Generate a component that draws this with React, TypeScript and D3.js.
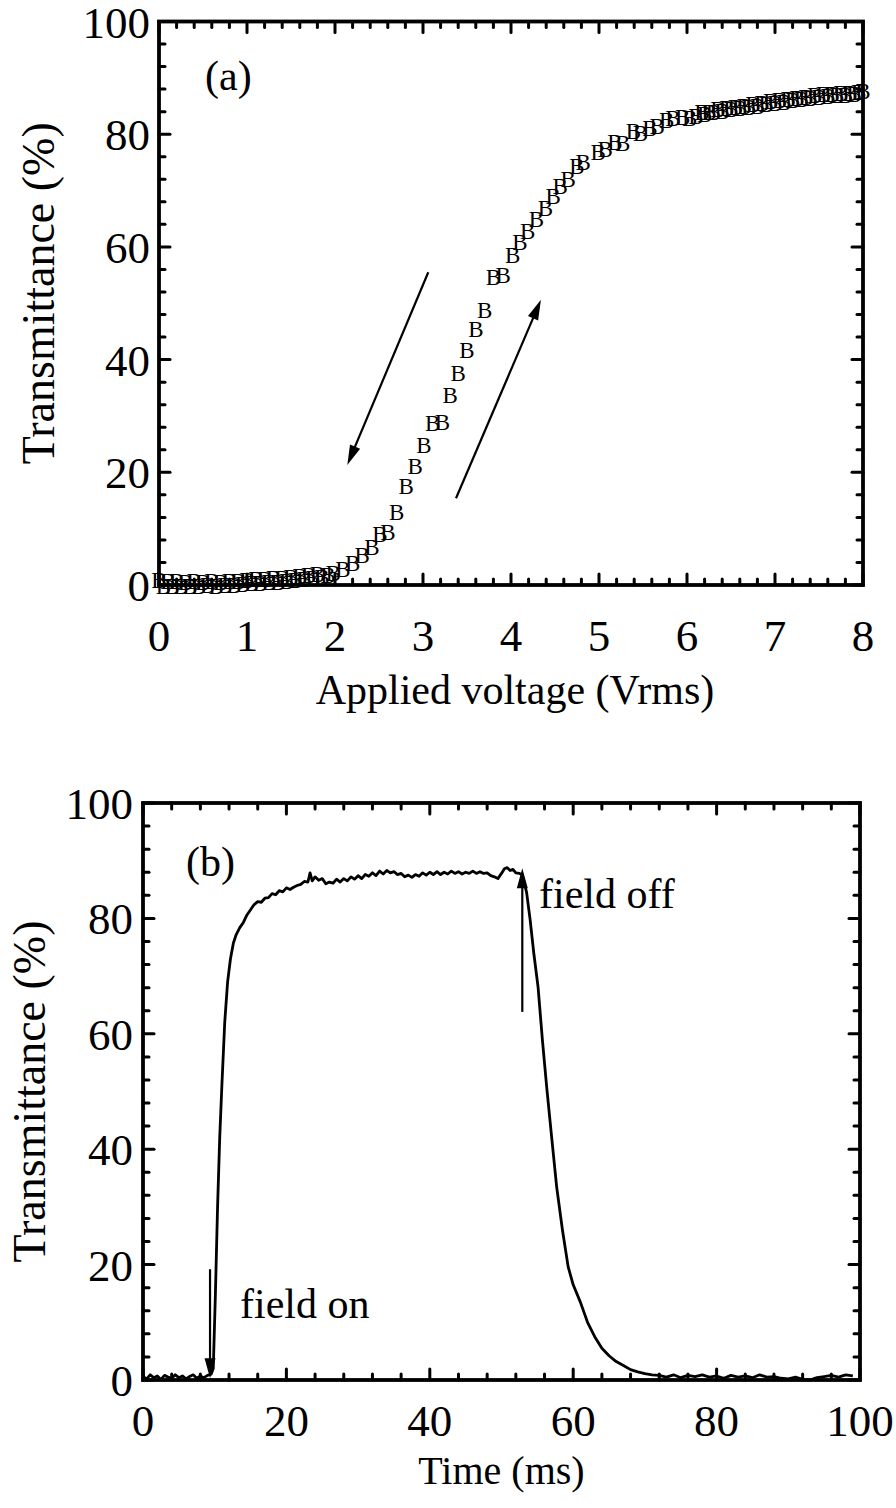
import React from "react";
import * as d3 from "d3";

// ---------- Panel (a): transmittance vs applied voltage ----------
const sweepUpV = [0.0, 0.1, 0.2, 0.3, 0.4, 0.5, 0.6, 0.7, 0.8, 0.9, 1.0, 1.1, 1.2, 1.3, 1.4, 1.5, 1.6, 1.7, 1.8, 1.98, 2.09, 2.2, 2.31, 2.42, 2.51, 2.6, 2.7, 2.81, 2.91, 3.01, 3.11, 3.22, 3.31, 3.4, 3.5, 3.6, 3.7, 3.8, 3.91, 4.02, 4.1, 4.19, 4.29, 4.39, 4.48, 4.56, 4.65, 4.75, 4.82, 4.99, 5.07, 5.18, 5.27, 5.39, 5.47, 5.58, 5.66, 5.77, 5.84, 5.95, 6.03, 6.17, 6.25, 6.35, 6.45, 6.55, 6.65, 6.75, 6.85, 6.95, 7.05, 7.15, 7.25, 7.35, 7.45, 7.55, 7.65, 7.75, 7.85, 7.95, 8.0];
const sweepUpT = [0.8, 0.7, 0.6, 0.5, 0.6, 0.5, 0.6, 0.5, 0.6, 0.7, 0.8, 0.9, 1.0, 1.1, 1.2, 1.3, 1.5, 1.7, 1.9, 2.1, 2.7, 3.9, 5.3, 6.7, 8.9, 9.4, 12.8, 17.4, 21.1, 24.7, 28.7, 28.9, 33.7, 37.6, 41.7, 45.3, 48.8, 54.5, 55.0, 58.5, 60.7, 62.7, 64.8, 66.9, 68.9, 70.7, 71.9, 74.2, 74.9, 76.8, 77.2, 78.6, 78.4, 80.4, 80.2, 81.1, 81.3, 82.5, 82.7, 82.9, 82.7, 83.9, 83.8, 84.3, 84.5, 84.8, 85.0, 85.3, 85.5, 85.8, 86.0, 86.2, 86.4, 86.6, 86.8, 87.0, 87.1, 87.2, 87.3, 87.4, 87.5];
const sweepDownV = [0.05, 0.15, 0.25, 0.35, 0.45, 0.55, 0.65, 0.75, 0.85, 0.95, 1.05, 1.15, 1.25, 1.35, 1.45, 1.55, 1.65, 1.75, 1.85, 1.92, 6.1, 6.2, 6.3, 6.4, 6.5, 6.6, 6.7, 6.8, 6.9, 7.0, 7.1, 7.2, 7.3, 7.4, 7.5, 7.6, 7.7, 7.8, 7.9];
const sweepDownT = [-0.2, -0.3, -0.2, -0.3, -0.2, -0.1, -0.2, -0.1, 0.0, 0.1, 0.2, 0.3, 0.4, 0.5, 0.6, 0.8, 1.0, 1.2, 1.4, 1.6, 83.2, 83.5, 83.8, 84.0, 84.3, 84.5, 84.8, 85.0, 85.3, 85.5, 85.7, 85.9, 86.1, 86.3, 86.5, 86.7, 86.8, 86.9, 87.0];

// ---------- Panel (b): transmittance vs time ----------
const timeMs = [0, 0.5, 1, 1.5, 2, 2.5, 3, 3.5, 4, 4.5, 5, 5.5, 6, 6.5, 7, 7.5, 8, 8.5, 9, 9.5, 9.8, 10.1, 10.4, 10.7, 11.0, 11.4, 11.8, 12.2, 12.6, 13.0, 13.5, 14.0, 14.5, 15, 15.5, 16, 16.5, 17, 17.5, 18, 18.5, 19, 19.5, 20, 20.5, 21, 21.5, 22, 22.5, 23, 23.3, 23.6, 24, 24.5, 25, 25.5, 26, 26.5, 27, 27.5, 28, 28.5, 29, 29.5, 30, 30.5, 31, 31.5, 32, 32.5, 33, 33.5, 34, 34.5, 35, 35.5, 36, 36.5, 37, 37.5, 38, 38.5, 39, 39.5, 40, 40.5, 41, 41.5, 42, 42.5, 43, 43.5, 44, 44.5, 45, 45.5, 46, 46.5, 47, 47.5, 48, 48.5, 49, 49.5, 50, 50.4, 50.8, 51.2, 51.6, 52.0, 52.5, 52.9, 53.5, 54, 54.5, 55.1, 55.7, 56.3, 57, 57.7, 58.5, 59.3, 60, 61, 62, 63, 64, 65, 66, 67, 68, 69, 70, 71, 72, 73, 74, 75, 76, 77, 78, 79, 80, 81, 82, 83, 84, 85, 86, 87, 88, 89, 90, 91, 92, 93, 94, 95, 96, 97, 98, 99, 100];
const transT = [0.6, 0.2, 0.9, 0.4, 0.7, 0.1, 0.8, 0.5, 0.3, 0.9, 0.4, 0.7, 0.2, 0.6, 0.9, 0.3, 0.7, 0.4, 0.8, 1.0, 2.0, 15, 30, 42, 51, 62, 69, 73, 75.7, 77.2, 78.4, 79.3, 80.6, 81.5, 82.4, 82.9, 82.8, 83.5, 83.6, 84.3, 84.1, 84.8, 84.6, 85.3, 85.0, 85.4, 85.7, 85.9, 86.4, 86.3, 87.9, 86.5, 87.2, 86.6, 86.9, 86.0, 86.3, 86.1, 86.8, 86.3, 86.9, 86.5, 87.2, 86.8, 87.4, 86.9, 87.6, 87.3, 87.9, 87.4, 88.2, 87.7, 88.3, 87.9, 88.1, 87.6, 87.8, 87.2, 87.5, 87.1, 87.6, 87.3, 87.9, 87.5, 88.0, 87.6, 88.1, 87.6, 88.0, 87.7, 88.2, 87.8, 88.1, 87.7, 88.0, 87.8, 88.2, 87.8, 88.1, 87.8, 87.9, 87.4, 87.2, 86.9, 87.8, 88.6, 88.8, 88.3, 88.5, 87.9, 87.8, 87.5, 84.5, 79.7, 74.0, 68.1, 59.0, 50.8, 42.0, 33.4, 26.0, 19.6, 16.5, 13.5, 10.0, 7.5, 5.5, 4.2, 3.2, 2.5, 1.8, 1.4, 1.1, 0.9, 0.8, 0.5, 0.9, 0.4, 0.8, 0.6, 0.9, 0.5, 0.7, 0.3, 0.8, 0.5, 0.7, 0.4, 0.9, 0.5, 0.6, 0.3, 0.2, 0.5, 0.1, 0.0, 0.4, 0.6, 0.8, 0.5, 0.9, 0.7];

const xTicksA = [0, 1, 2, 3, 4, 5, 6, 7, 8];
const yTicks = [0, 20, 40, 60, 80, 100];
const xTicksB = [0, 20, 40, 60, 80, 100];

const FONT = "'Liberation Serif', 'Times New Roman', serif";
const TICK_FS = 45;
const LABEL_FS = 42;
const YLABEL_FS = 46;

type Scale = d3.ScaleLinear<number, number>;

function Frame({ x, y, majorX, minorX, majorY, minorY }: { x: Scale; y: Scale; majorX: number[]; minorX: number[]; majorY: number[]; minorY: number[] }) {
  const [x0, x1] = x.range();
  const [y0, y1] = y.range();
  const MAJ = 11;
  const MIN = 6;
  const lines: any[] = [];
  let k = 0;
  const add = (a: number, b: number, c: number, d: number) => {
    lines.push(<line key={k++} x1={a} y1={b} x2={c} y2={d} stroke="#000" strokeWidth={3} strokeLinecap="round" />);
  };
  majorX.forEach((v) => { const p = x(v); add(p, y0, p, y0 - MAJ); add(p, y1, p, y1 + MAJ); });
  minorX.forEach((v) => { const p = x(v); add(p, y0, p, y0 - MIN); add(p, y1, p, y1 + MIN); });
  majorY.forEach((v) => { const p = y(v); add(x0, p, x0 + MAJ, p); add(x1, p, x1 - MAJ, p); });
  minorY.forEach((v) => { const p = y(v); add(x0, p, x0 + MIN, p); add(x1, p, x1 - MIN, p); });
  return (
    <g>
      {lines}
      <rect x={x0} y={y1} width={x1 - x0} height={y0 - y1} fill="none" stroke="#000" strokeWidth={3.8} />
    </g>
  );
}

function Arrow({ x1, y1, x2, y2, head = 20, width = 11, sw = 2.2 }: { x1: number; y1: number; x2: number; y2: number; head?: number; width?: number; sw?: number }) {
  const dx = x2 - x1, dy = y2 - y1;
  const L = Math.hypot(dx, dy);
  const ux = dx / L, uy = dy / L;
  const bx = x2 - ux * head, by = y2 - uy * head;
  const px = -uy * width / 2, py = ux * width / 2;
  return (
    <g>
      <line x1={x1} y1={y1} x2={bx + ux * 2} y2={by + uy * 2} stroke="#000" strokeWidth={sw} />
      <polygon points={`${x2},${y2} ${bx + px},${by + py} ${bx - px},${by - py}`} fill="#000" />
    </g>
  );
}

export default function App() {
  const xa = d3.scaleLinear().domain([0, 8]).range([159, 863]);
  const ya = d3.scaleLinear().domain([0, 100]).range([585, 21.5]);
  const xb = d3.scaleLinear().domain([0, 100]).range([143, 860]);
  const yb = d3.scaleLinear().domain([0, 100]).range([1380, 803]);

  const minorXA = d3.range(0, 8.0001, 0.2).filter((v) => Math.abs(v - Math.round(v)) > 1e-6);
  const minorY = d3.range(0, 100.001, 4).filter((v) => v % 20 !== 0);
  const minorXB = d3.range(0, 100.001, 4).filter((v) => v % 20 !== 0);

  const lineB = d3.line<number>().x((_, i) => xb(timeMs[i])).y((d) => yb(d));

  const ptsA = [
    ...sweepUpV.map((v, i) => [v, sweepUpT[i]]),
    ...sweepDownV.map((v, i) => [v, sweepDownT[i]]),
  ];

  return (
    <svg width={896} height={1508} style={{ position: "absolute", left: 0, top: 0, background: "#fff" }} fontFamily={FONT}>
      <rect x={0} y={0} width={896} height={1508} fill="#fff" />

      {/* ===== Panel (a) ===== */}
      <Frame x={xa} y={ya} majorX={xTicksA} minorX={minorXA} majorY={yTicks} minorY={minorY} />
      {ptsA.map(([v, t], i) => (
        <text key={i} x={xa(v)} y={ya(t)} fontSize={23} textAnchor="middle" dominantBaseline="central" fill="#000">B</text>
      ))}
      {xTicksA.map((v) => (
        <text key={v} x={xa(v)} y={651} fontSize={TICK_FS} textAnchor="middle" fill="#000">{v}</text>
      ))}
      {yTicks.map((v) => (
        <text key={v} x={150} y={ya(v) + 16} fontSize={TICK_FS} textAnchor="end" fill="#000">{v}</text>
      ))}
      <text x={(159 + 863) / 2 + 4} y={704} fontSize={LABEL_FS} textAnchor="middle" fill="#000">Applied voltage (Vrms)</text>
      <text transform={`translate(54, ${(585 + 21.5) / 2 - 10}) rotate(-90)`} fontSize={YLABEL_FS} textAnchor="middle" fill="#000">Transmittance (%)</text>
      <text x={205} y={90} fontSize={LABEL_FS} fill="#000">(a)</text>
      <Arrow x1={xa(3.06)} y1={ya(55.5)} x2={xa(2.14)} y2={ya(21.3)} />
      <Arrow x1={xa(3.375)} y1={ya(15.4)} x2={xa(4.34)} y2={ya(50.6)} />

      {/* ===== Panel (b) ===== */}
      <Frame x={xb} y={yb} majorX={xTicksB} minorX={minorXB} majorY={yTicks} minorY={minorY} />
      <path d={lineB(transT) || ""} fill="none" stroke="#000" strokeWidth={2.8} strokeLinejoin="round" />
      {xTicksB.map((v) => (
        <text key={v} x={xb(v)} y={1436} fontSize={TICK_FS} textAnchor="middle" fill="#000">{v}</text>
      ))}
      {yTicks.map((v) => (
        <text key={v} x={133} y={yb(v) + 16} fontSize={TICK_FS} textAnchor="end" fill="#000">{v}</text>
      ))}
      <text x={(143 + 860) / 2} y={1484} fontSize={40} textAnchor="middle" fill="#000">Time (ms)</text>
      <text transform={`translate(45, ${(1380 + 803) / 2}) rotate(-90)`} fontSize={YLABEL_FS} textAnchor="middle" fill="#000">Transmittance (%)</text>
      <text x={186} y={876} fontSize={LABEL_FS} fill="#000">(b)</text>
      <Arrow x1={xb(9.35)} y1={yb(19.2)} x2={xb(9.35)} y2={yb(0.3)} />
      <Arrow x1={xb(52.9)} y1={yb(63.8)} x2={xb(52.9)} y2={yb(88.7)} />
      <text x={240} y={1318} fontSize={LABEL_FS} fill="#000">field on</text>
      <text x={539} y={908} fontSize={LABEL_FS} fill="#000">field off</text>
    </svg>
  );
}
